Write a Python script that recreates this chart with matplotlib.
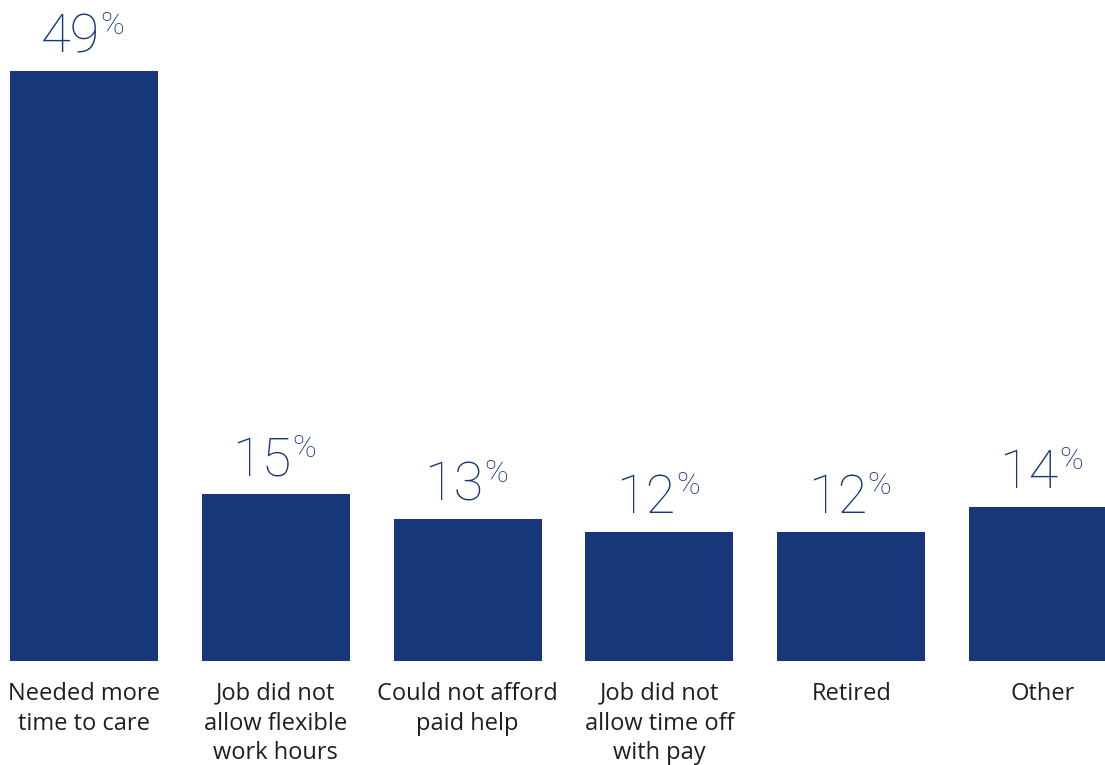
import matplotlib
matplotlib.use("Agg")
import matplotlib.pyplot as plt
import numpy as np

# Données
categories = [
    "Needed more\ntime to care",
    "Job did not\nallow flexible\nwork hours",
    "Could not afford\npaid help",
    "Job did not\nallow time off\nwith pay",
    "Retired",
    "Other",
]
values = [49, 15, 13, 12, 12, 14]

bar_color = "#17377a"
text_color = "#1f1f1f"

fig = plt.figure(figsize=(11.05, 7.65), dpi=100)
ax = fig.add_axes([0, 0.136, 1, 0.864])

x = np.arange(len(values))
ax.bar(x, values, width=0.772, color=bar_color, zorder=2)

# Étiquettes de valeur : nombre + "%" en exposant
for xi, v in zip(x, values):
    num = ax.annotate(str(v), xy=(xi, v), xytext=(-10, 13.7), textcoords="offset points",
                      ha="center", va="baseline", fontsize=39, color=bar_color,
                      family="Roboto", weight="light")
    ax.annotate("%", xy=(1, 1), xycoords=num, xytext=(0.5, 0.5), textcoords="offset points",
                ha="left", va="top", fontsize=23, color=bar_color,
                family="Roboto", weight="light")

ax.set_xlim(-0.438, 5.323)
ax.set_ylim(1.6, 54.72)
ax.set_xticks(x)
ax.set_xticklabels(categories, fontsize=17, color=text_color, family="Open Sans",
                   linespacing=1.32)
ax.tick_params(axis="x", length=0, pad=15)
ax.set_yticks([])
for s in ax.spines.values():
    s.set_visible(False)

fig.savefig("out.png", dpi=100)
